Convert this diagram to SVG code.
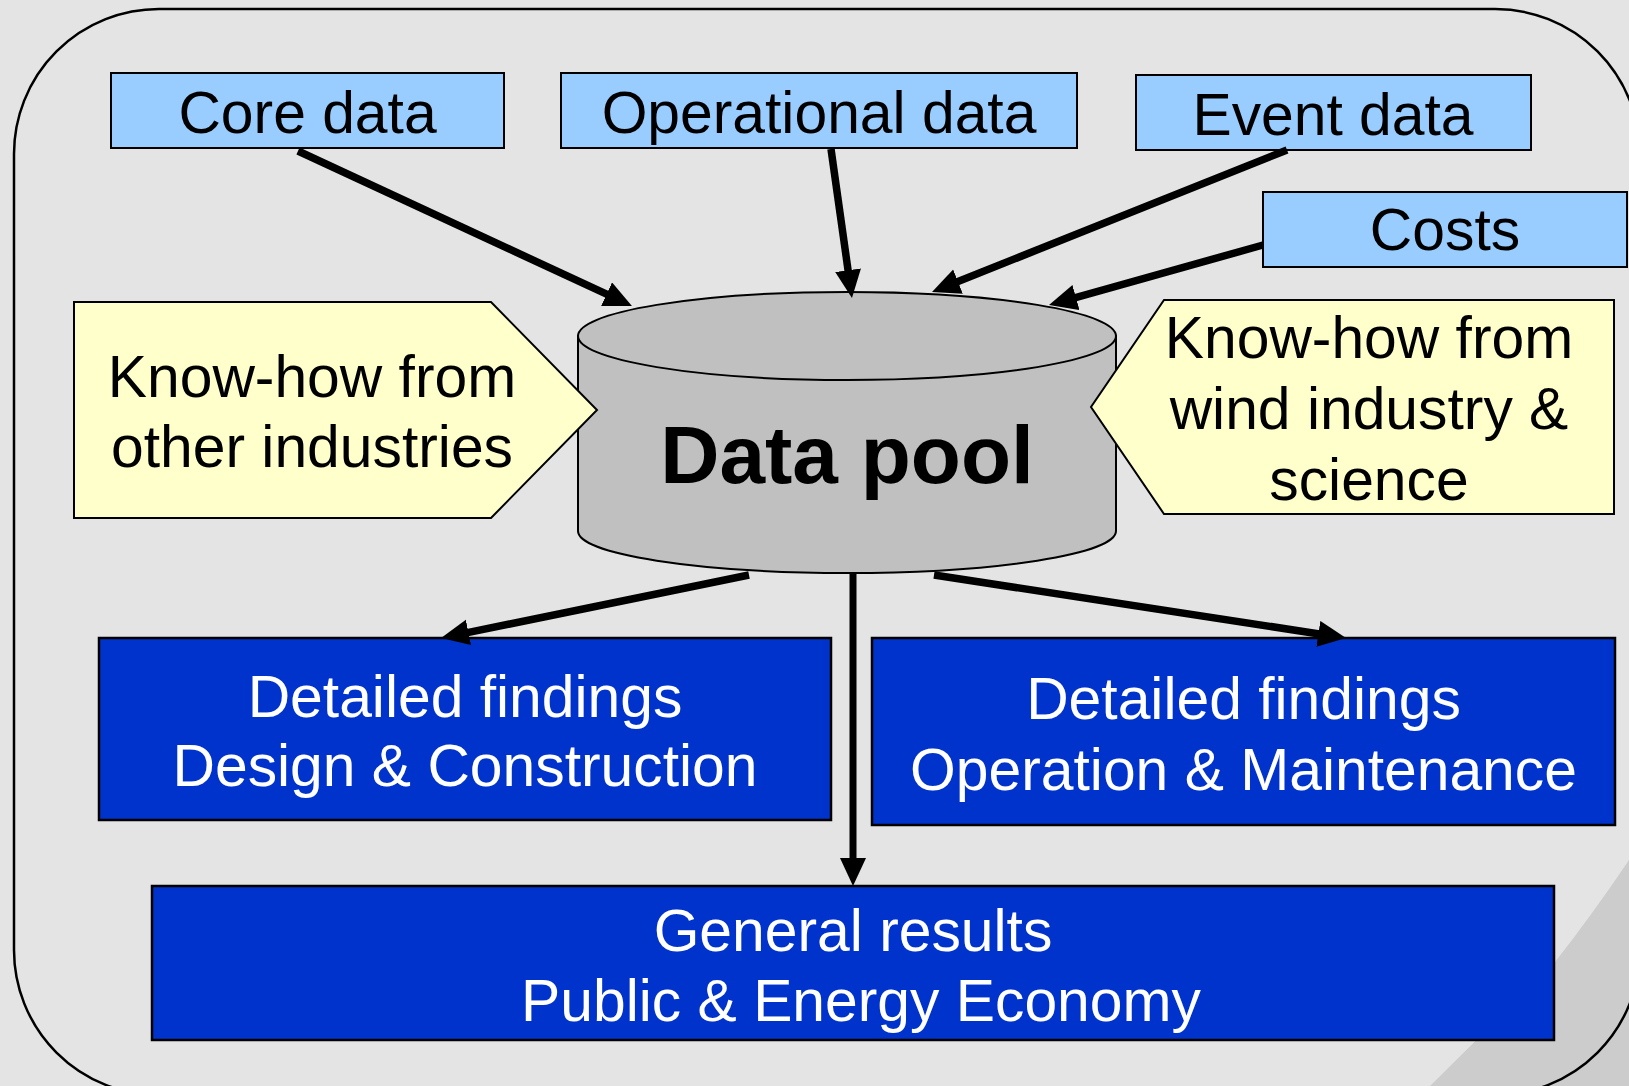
<svg xmlns="http://www.w3.org/2000/svg" width="1629" height="1086" viewBox="0 0 1629 1086">
<style>
text{font-family:"Liberation Sans",Arial,sans-serif;font-size:58.8px;text-anchor:middle;fill:#000}
.lb{fill:#99ccff;stroke:#000;stroke-width:2}
.yl{fill:#ffffcc;stroke:#000;stroke-width:2}
.db{fill:#0033cc;stroke:#000;stroke-width:2.5}
.wt{fill:#fff}
.cn{stroke:#000;stroke-width:7.5;fill:none;marker-end:url(#ah)}
</style>
<defs>
<marker id="ah" markerUnits="userSpaceOnUse" markerWidth="30" markerHeight="28" refX="6" refY="13" orient="auto">
<path d="M0,0 L28,13 L0,26 Z" fill="#000"/>
</marker>
</defs>
<rect x="0" y="0" width="1629" height="1086" fill="#e4e4e4"/>
<path d="M1629,860 Q1592,915 1555,962 L1430,1086 L1629,1086 Z" fill="#cccccc"/>
<rect x="14" y="9" width="1626" height="1086" rx="145" ry="145" fill="none" stroke="#000" stroke-width="2.5"/>

<g id="core-data"><rect class="lb" x="111" y="73" width="393" height="75"/><text x="307.5" y="133">Core data</text></g>
<g id="operational-data"><rect class="lb" x="561" y="73" width="516" height="75"/><text x="819" y="133">Operational data</text></g>
<g id="event-data"><rect class="lb" x="1136" y="75" width="395" height="75"/><text x="1333" y="135">Event data</text></g>
<g id="costs"><rect class="lb" x="1263" y="192" width="364" height="75"/><text x="1445" y="250">Costs</text></g>

<g id="data-pool">
<path d="M578,336 L578,531 A269,42 0 0 0 1116,531 L1116,336 Z" fill="#c0c0c0" stroke="#000" stroke-width="2"/>
<ellipse cx="847" cy="336" rx="269" ry="44" fill="#c0c0c0" stroke="#000" stroke-width="2"/>
<text x="847" y="483" style="font-weight:bold;font-size:82px">Data pool</text>
</g>

<g id="knowhow-other"><path class="yl" d="M74,302 L491,302 L597,410 L491,518 L74,518 Z"/><text x="312" y="397">Know-how from</text><text x="312" y="467">other industries</text></g>
<g id="knowhow-wind"><path class="yl" d="M1164,300 L1614,300 L1614,514 L1164,514 L1091,407 Z"/><text x="1369" y="358">Know-how from</text><text x="1369" y="429">wind industry &amp;</text><text x="1369" y="500">science</text></g>

<g id="findings-design"><rect class="db" x="99" y="638" width="732" height="182"/><text class="wt" x="465" y="717">Detailed findings</text><text class="wt" x="465" y="786">Design &amp; Construction</text></g>
<g id="findings-operation"><rect class="db" x="872" y="638" width="743" height="187"/><text class="wt" x="1243.5" y="719">Detailed findings</text><text class="wt" x="1243.5" y="790">Operation &amp; Maintenance</text></g>
<g id="general-results"><rect class="db" x="152" y="886" width="1402" height="154"/><text class="wt" x="853" y="951">General results</text><text class="wt" x="861" y="1021">Public &amp; Energy Economy</text></g>

<g id="connectors">
<line class="cn" x1="298" y1="151" x2="612" y2="296.7"/>
<line class="cn" x1="831" y1="149" x2="848.9" y2="276.2"/>
<line class="cn" x1="1287" y1="150" x2="952.4" y2="283.8"/>
<line class="cn" x1="1263" y1="245" x2="1070.2" y2="299.1"/>
<line class="cn" x1="749" y1="575" x2="462.6" y2="633.6"/>
<line class="cn" x1="853" y1="574" x2="853" y2="864" style="stroke-width:7"/>
<line class="cn" x1="934" y1="575" x2="1324.3" y2="634.7"/>
</g>
</svg>
